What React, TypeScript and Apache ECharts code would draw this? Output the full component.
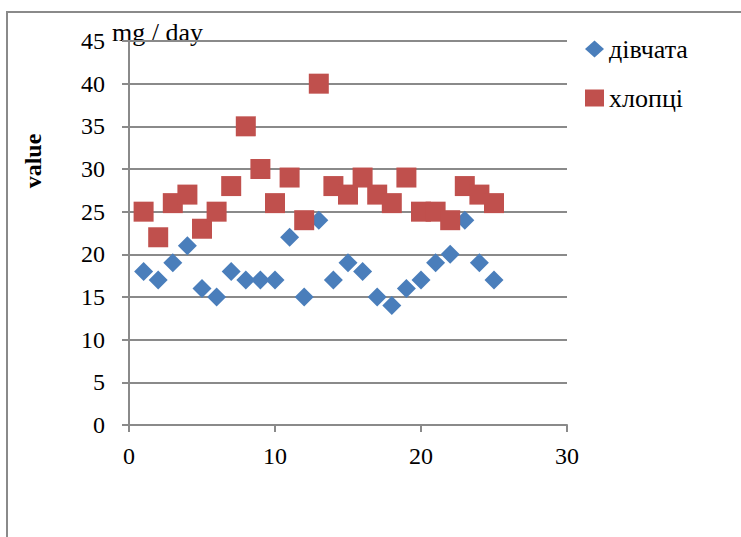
import React, { useEffect, useRef } from "react";
import * as echarts from "echarts";

const xValues = [1, 2, 3, 4, 5, 6, 7, 8, 9, 10, 11, 12, 13, 14, 15, 16, 17, 18, 19, 20, 21, 22, 23, 24, 25];
const girls = [18, 17, 19, 21, 16, 15, 18, 17, 17, 17, 22, 15, 24, 17, 19, 18, 15, 14, 16, 17, 19, 20, 24, 19, 17];
const boys = [25, 22, 26, 27, 23, 25, 28, 35, 30, 26, 29, 24, 40, 28, 27, 29, 27, 26, 29, 25, 25, 24, 28, 27, 26];
const seriesNames = ["дівчата", "хлопці"];
const yAxisTitle = "value";
const unitLabel = "mg / day";

const FONT = "Liberation Serif";
const GRID_COLOR = "#8a8a8a";

export default function App() {
  const ref = useRef<HTMLDivElement>(null);

  useEffect(() => {
    if (!ref.current) return;
    const chart = echarts.init(ref.current, null, { renderer: "svg" });
    const girlsData = xValues.map((x, i) => [x, girls[i]]);
    const boysData = xValues.map((x, i) => [x, boys[i]]);

    chart.setOption({
      animation: false,
      backgroundColor: "#ffffff",
      textStyle: { fontFamily: FONT, color: "#000" },
      grid: { left: 129, top: 41, right: 174, bottom: 112, containLabel: false },
      xAxis: {
        type: "value",
        min: 0,
        max: 30,
        interval: 10,
        axisLine: { show: true, lineStyle: { color: GRID_COLOR, width: 2 } },
        axisTick: { show: true, inside: false, length: 7, lineStyle: { color: GRID_COLOR, width: 2 } },
        axisLabel: { fontFamily: FONT, fontSize: 24, color: "#000", margin: 19 },
        splitLine: { show: false },
      },
      yAxis: {
        type: "value",
        min: 0,
        max: 45,
        interval: 5,
        axisLine: { show: true, onZero: false, lineStyle: { color: GRID_COLOR, width: 2 } },
        axisTick: { show: true, inside: false, length: 7, lineStyle: { color: GRID_COLOR, width: 2 } },
        axisLabel: { fontFamily: FONT, fontSize: 24, color: "#000", margin: 24 },
        splitLine: { show: true, lineStyle: { color: GRID_COLOR, width: 2 } },
      },
      legend: {
        orient: "vertical",
        left: 580,
        top: 31,
        itemWidth: 19,
        itemHeight: 17,
        itemGap: 23,
        textStyle: { fontFamily: FONT, fontSize: 26, color: "#000", lineHeight: 26 },
        data: seriesNames,
      },
      graphic: [
        {
          type: "rect",
          shape: { x: 7, y: 12, width: 800, height: 600 },
          style: { fill: "none", stroke: "#8a8a8a", lineWidth: 2 },
          silent: true,
        },
        {
          type: "text",
          x: 112,
          y: 32,
          style: { text: unitLabel, font: `26px ${FONT}`, fill: "#000", textVerticalAlign: "middle" },
        },
        {
          type: "text",
          x: 33,
          y: 161,
          rotation: Math.PI / 2,
          style: {
            text: yAxisTitle,
            font: `bold 24px ${FONT}`,
            fill: "#000",
            textAlign: "center",
            textVerticalAlign: "middle",
          },
        },
      ],
      series: [
        {
          name: seriesNames[0],
          type: "scatter",
          symbol: "diamond",
          symbolSize: [19, 19],
          itemStyle: { color: "#4a7ebb", opacity: 1 },
          data: girlsData,
          z: 2,
        },
        {
          name: seriesNames[1],
          type: "scatter",
          symbol: "rect",
          symbolSize: [20, 20],
          itemStyle: { color: "#c0504d", opacity: 1 },
          data: boysData,
          z: 3,
        },
      ],
    });
    return () => chart.dispose();
  }, []);

  return (
    <div
      ref={ref}
      style={{ position: "fixed", left: 0, top: 0, width: 741, height: 537, background: "#fff" }}
    />
  );
}
